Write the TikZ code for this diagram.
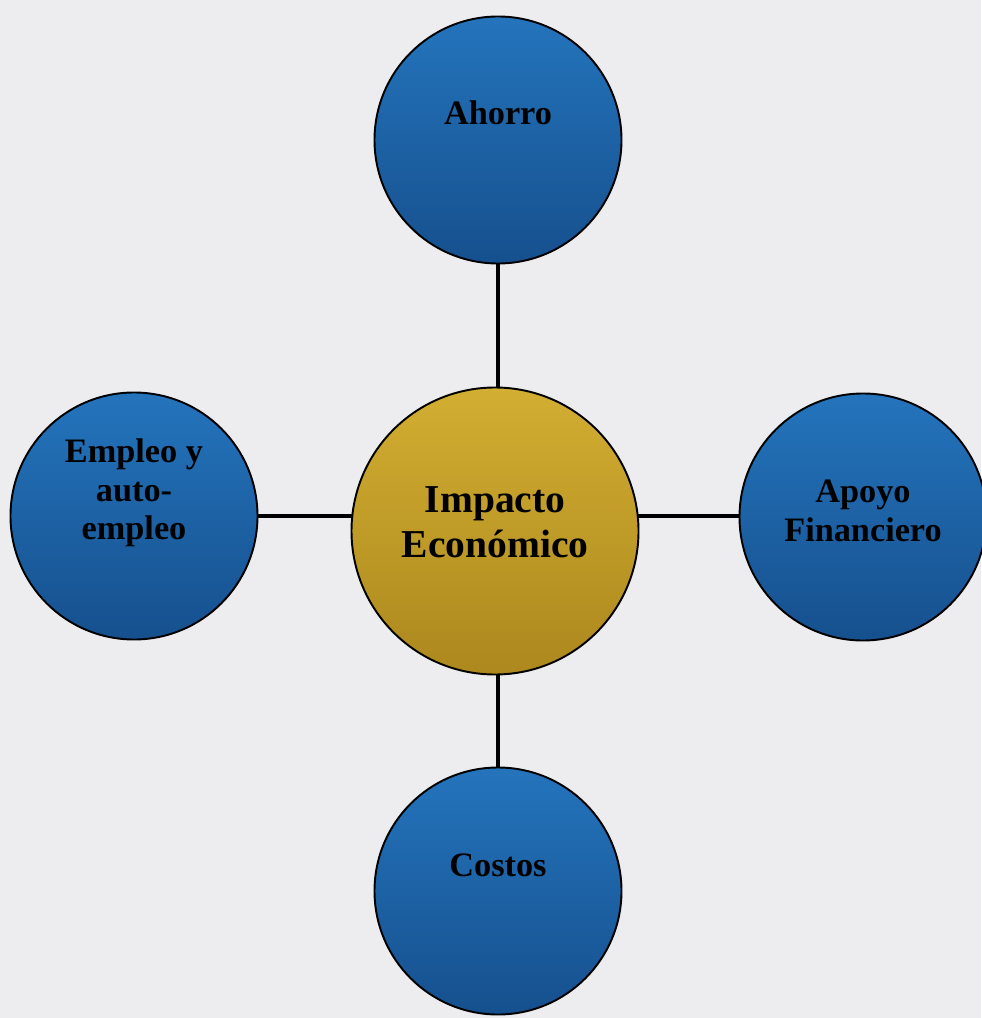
\documentclass[tikz,border=0pt]{standalone}
\usepackage{fontspec}
\setmainfont{Liberation Serif}
\usepackage{tikz}
\usetikzlibrary{positioning,backgrounds}
\usepackage{xcolor}
\definecolor{imblue}{RGB}{36,116,188}
\definecolor{imdarkblue}{RGB}{22,80,142}
\definecolor{imgold}{RGB}{210,174,50}
\definecolor{imdarkgold}{RGB}{172,136,30}
\definecolor{impage}{RGB}{237,237,240}

\begin{document}
\begin{tikzpicture}[
    outer/.style={circle, draw=black, line width=1.1pt, minimum size=4.94cm, top color=imblue, bottom color=imdarkblue},
    hub/.style={circle, draw=black, line width=1.1pt, minimum size=5.74cm, top color=imgold, bottom color=imdarkgold},
    outertxt/.style={font=\bfseries\fontsize{19.5}{22}\selectfont, align=center, text=black},
    hubtxt/.style={font=\bfseries\fontsize{22.5}{25.5}\selectfont, align=center, text=black},
    link/.style={line width=2.2pt, black}
]
\useasboundingbox (0,0) rectangle (19.62,-20.36);

% Page
\begin{scope}[on background layer]
\fill[impage] (0,0) rectangle (19.62,-20.36);
\end{scope}

% Central node
\node[hub, label={[hubtxt, yshift=0.18cm]center:{Impacto\\Económico}}] (eco) at (9.9,-10.62) {};

% Outer nodes
\node[outer, label={[outertxt, yshift=0.54cm]center:{Ahorro}}] (ahorro) at (9.96,-2.8) {};
\node[outer, label={[outertxt, yshift=0.46cm]center:{Empleo y\\auto-\\empleo}}] (empleo) at (2.68,-10.32) {};
\node[outer, label={[outertxt, yshift=0.12cm]center:{Apoyo\\Financiero}}] (apoyo) at (17.26,-10.34) {};
\node[outer, label={[outertxt, yshift=0.52cm]center:{Costos}}] (costos) at (9.96,-17.82) {};

% Connectors
\begin{scope}[on background layer]
\draw[link] (ahorro) -- (costos);
\draw[link] (empleo) -- (empleo -| apoyo);
\end{scope}

\end{tikzpicture}
\end{document}
